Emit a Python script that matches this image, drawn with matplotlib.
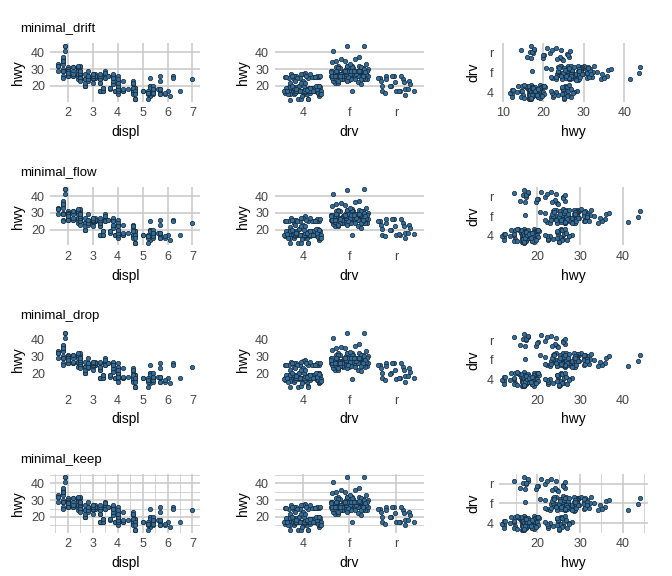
import numpy as np
import matplotlib.pyplot as plt

plt.rcParams['font.family'] = ['Liberation Sans', 'DejaVu Sans']

# mpg-like data: displ, drv, hwy
rows = [
    (1.8,'f',29),(1.8,'f',29),(2.0,'f',31),(2.0,'f',30),(2.8,'f',26),(2.8,'f',26),(3.1,'f',27),
    (1.8,'4',26),(1.8,'4',25),(2.0,'4',28),(2.0,'4',27),(2.8,'4',25),(2.8,'4',25),(3.1,'4',25),(3.1,'4',25),
    (2.8,'4',24),(3.1,'4',25),(4.2,'4',23),
    (5.3,'r',20),(5.3,'r',15),(5.3,'r',20),(5.7,'r',17),(6.0,'r',17),
    (5.7,'r',26),(5.7,'r',23),(6.2,'r',26),(6.2,'r',25),(7.0,'r',24),
    (5.3,'4',19),(5.3,'4',14),(5.7,'4',15),(6.5,'4',17),
    (2.4,'f',27),(2.4,'f',30),(3.1,'f',26),(3.5,'f',29),(3.6,'f',26),
    (2.4,'f',24),(3.0,'f',24),(3.3,'f',22),(3.3,'f',22),(3.3,'f',24),(3.3,'f',24),(3.3,'f',17),
    (3.8,'f',22),(3.8,'f',21),(4.0,'f',23),(3.8,'f',23),
    (3.7,'4',19),(3.7,'4',18),(3.9,'4',17),(3.9,'4',17),(4.7,'4',19),(4.7,'4',19),(4.7,'4',12),
    (5.2,'4',17),(5.2,'4',15),
    (3.9,'4',17),(4.7,'4',17),(4.7,'4',12),(4.7,'4',17),(5.2,'4',16),(5.7,'4',18),(5.9,'4',15),
    (4.7,'4',16),(4.7,'4',12),(4.7,'4',17),(4.7,'4',17),(5.2,'4',16),(5.2,'4',12),(5.7,'4',15),(5.9,'4',16),
    (4.6,'r',17),(5.4,'r',17),(5.4,'r',18),
    (4.0,'4',17),(4.0,'4',19),(4.0,'4',17),(4.0,'4',19),(4.6,'4',19),(5.0,'4',17),
    (4.2,'4',17),(4.2,'4',17),(4.6,'4',16),(4.6,'4',16),(4.6,'4',17),(5.4,'4',15),(5.4,'4',17),
    (3.8,'r',26),(3.8,'r',25),(4.0,'r',26),(4.0,'r',24),(4.6,'r',21),(4.6,'r',22),(4.6,'r',23),
    (4.6,'r',22),(5.4,'r',20),
    (1.6,'f',33),(1.6,'f',32),(1.6,'f',32),(1.6,'f',29),(1.6,'f',32),(1.8,'f',34),(1.8,'f',36),
    (1.8,'f',36),(2.0,'f',29),
    (2.4,'f',26),(2.4,'f',27),(2.5,'f',26),(2.5,'f',26),(2.4,'f',30),(2.4,'f',31),(3.3,'f',26),
    (2.0,'f',26),(2.0,'f',29),(2.0,'f',28),(2.7,'f',27),(2.7,'f',24),(2.7,'f',24),(2.7,'f',24),
    (3.0,'4',22),(3.7,'4',19),(4.0,'4',20),(4.7,'4',17),(4.7,'4',12),(4.7,'4',19),(5.7,'4',18),(6.1,'4',14),
    (4.0,'4',15),(4.2,'4',18),(4.4,'4',18),(4.6,'4',15),
    (5.4,'r',17),(5.4,'r',16),(5.4,'r',18),
    (4.0,'4',17),(4.0,'4',19),(4.6,'4',19),(5.0,'4',17),
    (2.4,'f',29),(2.4,'f',27),(2.5,'f',31),(2.5,'f',32),(3.5,'f',27),(3.5,'f',26),(3.5,'f',26),(3.5,'f',25),
    (3.0,'f',25),(3.0,'f',25),(3.5,'f',25),
    (3.3,'4',17),(3.3,'4',17),(4.0,'4',20),(5.6,'4',18),
    (3.1,'f',26),(3.8,'f',26),(3.8,'f',27),(3.8,'f',25),(5.3,'f',25),
    (2.5,'4',26),(2.5,'4',26),(2.5,'4',27),(2.5,'4',25),(2.5,'4',25),(2.5,'4',25),
    (2.2,'4',26),(2.2,'4',26),(2.5,'4',26),(2.5,'4',25),(2.5,'4',27),(2.5,'4',25),(2.5,'4',27),(2.5,'4',23),
    (2.7,'4',20),(2.7,'4',20),(3.4,'4',19),(3.4,'4',17),(4.0,'4',20),(4.7,'4',17),
    (2.2,'f',29),(2.2,'f',27),(2.4,'f',31),(2.4,'f',31),(3.0,'f',26),(3.0,'f',26),(3.5,'f',28),(3.0,'f',27),
    (2.2,'f',31),(2.2,'f',31),(2.4,'f',31),(2.4,'f',32),(3.0,'f',26),(3.0,'f',27),(3.3,'f',27),
    (1.8,'f',30),(1.8,'f',33),(1.8,'f',35),(1.8,'f',37),(1.8,'f',35),
    (4.7,'4',15),(5.7,'4',18),
    (2.7,'4',20),(2.7,'4',20),(2.7,'4',22),(3.4,'4',17),(3.4,'4',19),(4.0,'4',18),(4.0,'4',20),(4.0,'4',22),
    (2.0,'f',29),(2.0,'f',29),(2.0,'f',28),(2.0,'f',29),(2.8,'f',24),(2.8,'f',24),
    (1.9,'f',44),(2.0,'f',29),(2.0,'f',26),(2.0,'f',29),(2.0,'f',29),(2.5,'f',29),(2.5,'f',29),(2.8,'f',23),(2.8,'f',24),
    (1.9,'f',44),(1.9,'f',41),(2.0,'f',29),(2.0,'f',26),(2.5,'f',28),(2.5,'f',29),
    (1.8,'f',29),(1.8,'f',29),(2.0,'f',29),(2.0,'f',28),(2.8,'f',29),(2.8,'f',26),(3.6,'f',26),
]
displ = np.array([r[0] for r in rows])
drv = np.array([r[1] for r in rows])
hwy = np.array([r[2] for r in rows], dtype=float)

drv_levels = ['4', 'f', 'r']
themes = ['minimal_drift', 'minimal_flow', 'minimal_drop', 'minimal_keep']

# deterministic spread for the categorical axes
n = len(rows)
idx = np.arange(n)
jit_a = ((idx * 0.6180339) % 1 - 0.5) * 0.8
jit_b = ((idx * 0.4142136 + 0.3) % 1 - 0.5) * 0.8
jit_c = ((idx * 0.7320508 + 0.1) % 1 - 0.5) * 1.0
drv_pos = np.array([drv_levels.index(d) for d in drv], dtype=float)

fill = '#2f6f9f'
edge = '#1b2733'
gcol = '#cccccc'
ms = 10

fig, axes = plt.subplots(4, 3, figsize=(6.72, 5.76), dpi=100)
fig.subplots_adjust(left=0.075, right=0.965, top=0.925, bottom=0.075, hspace=1.45, wspace=0.5)

for r, name in enumerate(themes):
    for c in range(3):
        ax = axes[r, c]
        for s in ax.spines.values():
            s.set_visible(False)
        ax.tick_params(length=0, labelsize=9, colors='#444444', pad=4)
        if c == 0:
            ax.scatter(displ, hwy, s=ms, c=fill, edgecolors=edge, linewidths=0.5, zorder=3)
            ax.set_xlabel('displ', fontsize=10)
            ax.set_ylabel('hwy', fontsize=10)
            ax.set_xticks([2, 3, 4, 5, 6, 7])
            ax.set_yticks([20, 30, 40])
            ax.set_xlim(1.3, 7.3)
            ax.set_ylim(10.5, 45.5)
        elif c == 1:
            ax.scatter(drv_pos + jit_a, hwy + jit_b * 0.5, s=ms, c=fill, edgecolors=edge, linewidths=0.5, zorder=3)
            ax.set_xlabel('drv', fontsize=10)
            ax.set_ylabel('hwy', fontsize=10)
            ax.set_xticks([0, 1, 2])
            ax.set_xticklabels(drv_levels)
            ax.set_yticks([20, 30, 40])
            ax.set_xlim(-0.6, 2.6)
            ax.set_ylim(10.5, 45.5)
        else:
            ax.scatter(hwy + jit_c, drv_pos + jit_a * 0.9, s=ms, c=fill, edgecolors=edge, linewidths=0.5, zorder=3)
            ax.set_xlabel('hwy', fontsize=10)
            ax.set_ylabel('drv', fontsize=10)
            ax.set_yticks([0, 1, 2])
            ax.set_yticklabels(drv_levels)
            ax.set_ylim(-0.5, 2.5)
            if r == 0:
                ax.set_xticks([10, 20, 30, 40])
                ax.set_xlim(9, 46)
            else:
                ax.set_xticks([20, 30, 40])
                ax.set_xlim(11, 46)
        if name in ('minimal_drift', 'minimal_flow'):
            if c == 0:
                ax.grid(True, color=gcol, lw=1.2)
            elif c == 1:
                ax.grid(True, axis='y', color=gcol, lw=1.2)
            else:
                ax.grid(True, axis='x', color=gcol, lw=1.2)
        elif name == 'minimal_keep':
            ax.grid(True, which='major', color=gcol, lw=1.2)
            if c == 0:
                ax.set_xticks([1.5, 2.5, 3.5, 4.5, 5.5, 6.5], minor=True)
                ax.set_yticks([15, 25, 35, 45], minor=True)
            elif c == 1:
                ax.set_yticks([15, 25, 35, 45], minor=True)
            else:
                ax.set_xticks([15, 25, 35, 45], minor=True)
            ax.tick_params(which='minor', length=0)
            ax.grid(True, which='minor', color=gcol, lw=0.6)
        ax.set_axisbelow(True)
    pos = axes[r, 0].get_position()
    fig.text(0.03, pos.y1 + 0.015, name, fontsize=9.5, ha='left', va='bottom')

fig.savefig('out.png', dpi=100)
